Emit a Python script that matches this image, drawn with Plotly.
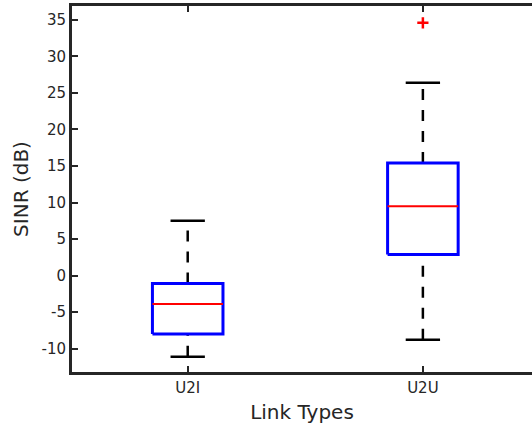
import plotly.graph_objects as go

# link types and box statistics (SINR in dB)
categories = ["U2I", "U2U"]
lower_whisker = [-11.1, -8.8]
q1 = [-8.0, 2.9]
median = [-3.9, 9.5]
q3 = [-1.1, 15.4]
upper_whisker = [7.5, 26.4]
outlier_cat = [2]
outlier_val = [34.6]

y_ticks = [-10, -5, 0, 5, 10, 15, 20, 25, 30, 35]
y_ticktext = [str(v) for v in y_ticks]

half_box = 0.15
half_cap = 0.073
axis_color = "#262626"

fig = go.Figure()

for i, name in enumerate(categories):
    xc = i + 1
    # dashed whiskers
    for a, b in [(q3[i], upper_whisker[i]), (lower_whisker[i], q1[i])]:
        fig.add_trace(go.Scatter(
            x=[xc, xc], y=[a, b], mode="lines",
            line=dict(color="black", width=2.5, dash="11px,10px"),
            hoverinfo="skip", showlegend=False))
    # caps
    for v in [upper_whisker[i], lower_whisker[i]]:
        fig.add_trace(go.Scatter(
            x=[xc - half_cap, xc + half_cap], y=[v, v], mode="lines",
            line=dict(color="black", width=2.5),
            hoverinfo="skip", showlegend=False))
    # box
    fig.add_trace(go.Scatter(
        x=[xc - half_box, xc + half_box, xc + half_box, xc - half_box, xc - half_box],
        y=[q1[i], q1[i], q3[i], q3[i], q1[i]], mode="lines",
        line=dict(color="#0000ff", width=3),
        hoverinfo="skip", showlegend=False))
    # median
    fig.add_trace(go.Scatter(
        x=[xc - half_box, xc + half_box], y=[median[i], median[i]], mode="lines",
        line=dict(color="#ff0000", width=2),
        hoverinfo="skip", showlegend=False))

fig.add_trace(go.Scatter(
    x=outlier_cat, y=outlier_val, mode="markers",
    marker=dict(symbol="cross-thin", size=8, line=dict(color="#ff0000", width=2.5)),
    showlegend=False))

fig.update_layout(
    width=532, height=428,
    margin=dict(l=72, r=0, t=6, b=56),
    plot_bgcolor="white", paper_bgcolor="white",
    font=dict(family="DejaVu Sans", color=axis_color),
)
fig.update_xaxes(
    range=[0.508, 2.464], tickvals=[1, 2], ticktext=categories,
    showline=True, linecolor=axis_color, linewidth=3, mirror="ticks",
    ticks="inside", ticklen=6, tickwidth=2, tickcolor=axis_color,
    showgrid=False, zeroline=False, tickfont=dict(size=15),
    title=dict(text="Link Types", font=dict(size=20), standoff=9),
)
fig.update_yaxes(
    range=[-13.2, 36.9], tickvals=y_ticks, ticktext=y_ticktext,
    showline=True, linecolor=axis_color, linewidth=3, mirror=False,
    ticks="inside", ticklen=6, tickwidth=2, tickcolor=axis_color,
    showgrid=False, zeroline=False, tickfont=dict(size=15),
    title=dict(text="SINR (dB)", font=dict(size=20), standoff=8),
)

fig.write_html("out.html", config={"displayModeBar": False},
               post_script="document.body.style.margin='0';")
